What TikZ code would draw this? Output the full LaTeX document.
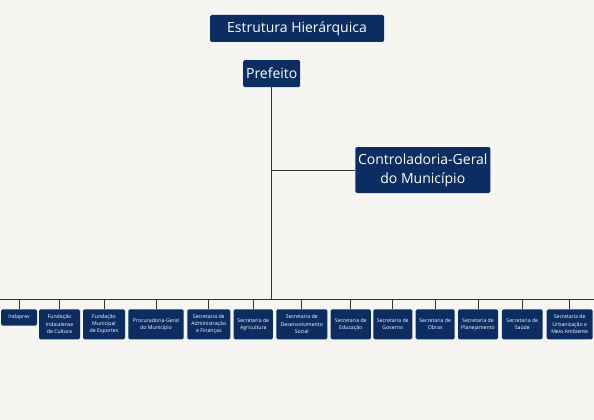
\documentclass[tikz,border=0pt]{standalone}
\usepackage{fontspec}
\setmainfont{Open Sans}
\definecolor{paper}{HTML}{F6F5F1}
\definecolor{boxblue}{HTML}{0C2D62}
\definecolor{wire}{HTML}{333333}

\begin{document}
\begin{tikzpicture}[x=1pt, y=-1pt,
  box/.style={fill=boxblue, text=white, rounded corners=1.5pt, inner sep=0pt, align=center},
  head/.style={box, font=\fontsize{14}{19}\selectfont},
  unit/.style={box, minimum height=30pt, font=\fontsize{5.2}{7.3}\selectfont},
  wire/.style={draw=wire, line width=0.9pt}]
   \fill[paper] (0,0) rectangle (594,420);
   \useasboundingbox (0,0) rectangle (594,420);

   % top boxes
   \node[head, minimum width=174pt, minimum height=27pt] (title) at (297,28.5) {Estrutura Hierárquica};
   \node[head, minimum width=57pt, minimum height=27pt] (pref) at (271.7,73.7) {Prefeito};
   \node[head, minimum width=135pt, minimum height=46pt] (ctrl) at (422.8,170) {Controladoria-Geral\\do Município};

   % bottom row
   \node[box, minimum width=36pt, minimum height=16.4pt, font=\fontsize{5.2}{7.3}\selectfont] (indaprev) at (19,317.5) {Indaprev};
   \node[unit, minimum width=41pt] (cultura) at (59.5,324.3) {Fundação\\Indaialense\\de Cultura};
   \node[unit, minimum width=42pt] (esportes) at (104,324.3) {Fundação\\Municipal\\de Esportes};
   \node[unit, minimum width=55.4pt] (procur) at (156,324.3) {Procuradoria-Geral\\do Município};
   \node[unit, minimum width=43pt] (admin) at (208.8,324.3) {Secretaria de\\Administração\\e Finanças};
   \node[unit, minimum width=39.3pt] (agric) at (253.3,324.3) {Secretaria de\\Agricultura};
   \node[unit, minimum width=51pt] (social) at (301.8,324.3) {Secretaria de\\Desenvolvimento\\Social};
   \node[unit, minimum width=40.3pt] (educ) at (350.8,324.3) {Secretaria de\\Educação};
   \node[unit, minimum width=39pt] (gov) at (392.8,324.3) {Secretaria de\\Governo};
   \node[unit, minimum width=39pt] (obras) at (435.2,324.3) {Secretaria de\\Obras};
   \node[unit, minimum width=40pt] (plan) at (478,324.3) {Secretaria de\\Planejamento};
   \node[unit, minimum width=40.7pt] (saude) at (522.3,324.3) {Secretaria de\\Saúde};
   \node[unit, minimum width=46pt] (urban) at (569.7,324.3) {Secretaria de\\Urbanização e\\Meio Ambiente};

   % connectors
   \coordinate (busL) at (0,299);
   \coordinate (busR) at (594,299);
   \draw[wire] (busL) -- (busR);
   \draw[wire] (pref.south) -- (pref.south |- busL);
   \draw[wire] (ctrl.west) -- (ctrl.west -| pref.south);
   \draw[wire] (indaprev.north) -- (indaprev.north |- busL);
   \draw[wire] (cultura.north) -- (cultura.north |- busL);
   \draw[wire] (esportes.north) -- (esportes.north |- busL);
   \draw[wire] (procur.north) -- (procur.north |- busL);
   \draw[wire] (admin.north) -- (admin.north |- busL);
   \draw[wire] (agric.north) -- (agric.north |- busL);
   \draw[wire] (social.north) -- (social.north |- busL);
   \draw[wire] (educ.north) -- (educ.north |- busL);
   \draw[wire] (gov.north) -- (gov.north |- busL);
   \draw[wire] (obras.north) -- (obras.north |- busL);
   \draw[wire] (plan.north) -- (plan.north |- busL);
   \draw[wire] (saude.north) -- (saude.north |- busL);
   \draw[wire] (urban.north) -- (urban.north |- busL);
\end{tikzpicture}
\end{document}
